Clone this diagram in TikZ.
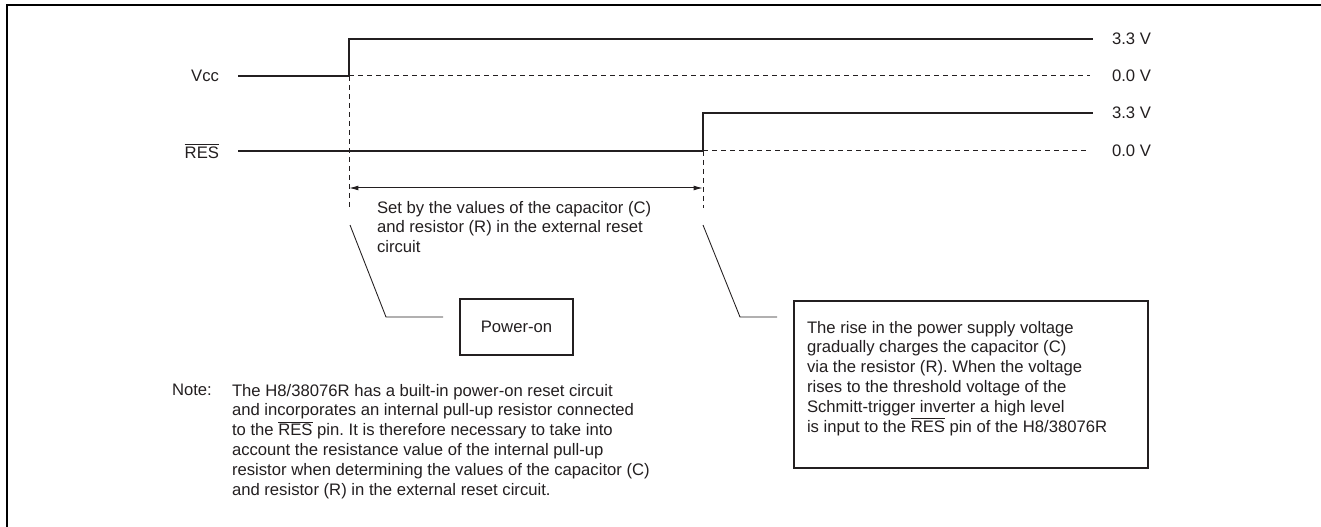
\documentclass[tikz,border=0pt]{standalone}
\usepackage{fontspec}
\setmainfont{Liberation Sans}
\usetikzlibrary{arrows.meta}
\definecolor{ink}{RGB}{35,31,32}
\newcommand{\resbar}{$\overline{\mbox{RES}}$}
\frenchspacing
\begin{document}
\begin{tikzpicture}[x=0.75pt,y=-0.75pt,
  every node/.style={inner sep=0pt,outer sep=0pt,text=ink,font=\fontsize{12.5}{14.85}\selectfont},
  frameline/.style={draw=black,line width=1.7pt},
  signal/.style={draw=ink,line width=1.75pt},
  level/.style={draw=ink,line width=0.75pt,dash pattern=on 3.75pt off 3pt},
  guide/.style={draw=ink,line width=0.75pt,dash pattern=on 3.75pt off 3pt},
  leader/.style={draw=ink,line width=0.65pt},
  dim/.style={draw=ink,line width=0.75pt,{Latex[length=7pt,width=3.6pt]}-{Latex[length=7pt,width=3.6pt]}},
  boxed/.style={draw=ink,line width=1.6pt},
  textblock/.style={align=left,anchor=north west}]
\useasboundingbox (0,0) rectangle (1321,527);
% frame
\coordinate (fbl) at (7,527);
\coordinate (ftl) at (7,5);
\coordinate (ftr) at (1321,5);
\draw[frameline] (fbl) -- (ftl) -- (ftr);
% signal names
\node[anchor=east] (vcclab) at (219,76) {Vcc};
\node[anchor=east] (reslab) at (219,151) {\resbar};
% Vcc waveform
\coordinate (v0) at (238,76);
\coordinate (v1) at (349,76);
\coordinate (v2) at (349,39);
\coordinate (v3) at (1093,39);
\coordinate (v4) at (1090,76);
\draw[signal] (v0) -- (v1) -- (v2) -- (v3);
\draw[level] (v1) -- (v4);
% RES waveform
\coordinate (r0) at (238,151);
\coordinate (r1) at (703,151);
\coordinate (r2) at (703,113);
\coordinate (r3) at (1093,113);
\coordinate (r4) at (1090,151);
\draw[signal] (r0) -- (r1) -- (r2) -- (r3);
\draw[level] (r1) -- (r4);
% voltage labels
\node[anchor=west] (vh) at (1112,39) {3.3 V};
\node[anchor=west] (vl) at (1112,76) {0.0 V};
\node[anchor=west] (rh) at (1112,113) {3.3 V};
\node[anchor=west] (rl) at (1112,151) {0.0 V};
% guides and dimension
\coordinate (g1) at (349,208);
\coordinate (g2) at (703,208);
\draw[guide] (v1) -- (g1);
\draw[guide] (r1) -- (g2);
\coordinate (a1) at (349,188);
\coordinate (a2) at (703,188);
\draw[dim] (a1) -- (a2);
\node[textblock] (settext) at (377,201) {Set by the values of the capacitor (C)\\and resistor (R) in the external reset\\circuit};
% leaders
\coordinate (l1a) at (350,225);
\coordinate (l1b) at (386,317);
\coordinate (l1c) at (443,317);
\draw[leader] (l1a) -- (l1b) -- (l1c);
\coordinate (l2a) at (703,225);
\coordinate (l2b) at (740,317);
\coordinate (l2c) at (777,317);
\draw[leader] (l2a) -- (l2b) -- (l2c);
% boxes
\node[boxed,minimum width=84.75pt,minimum height=42pt] (poweron) at (516.5,327) {Power-on};
\node[boxed,minimum width=265.5pt,minimum height=125.25pt] (risebox) at (971,384.5) {};
\node[textblock] (risetext) at (807,321) {The rise in the power supply voltage\\gradually charges the capacitor (C)\\via the resistor (R). When the voltage\\rises to the threshold voltage of the\\Schmitt-trigger inverter a high level\\is input to the \resbar{} pin of the H8/38076R};
% note
\node[textblock] (notelab) at (172,384) {Note:};
\node[textblock] (notetext) at (232,384) {The H8/38076R has a built-in power-on reset circuit\\and incorporates an internal pull-up resistor connected\\to the \resbar{} pin. It is therefore necessary to take into\\account the resistance value of the internal pull-up\\resistor when determining the values of the capacitor (C)\\and resistor (R) in the external reset circuit.};
\end{tikzpicture}
\end{document}
